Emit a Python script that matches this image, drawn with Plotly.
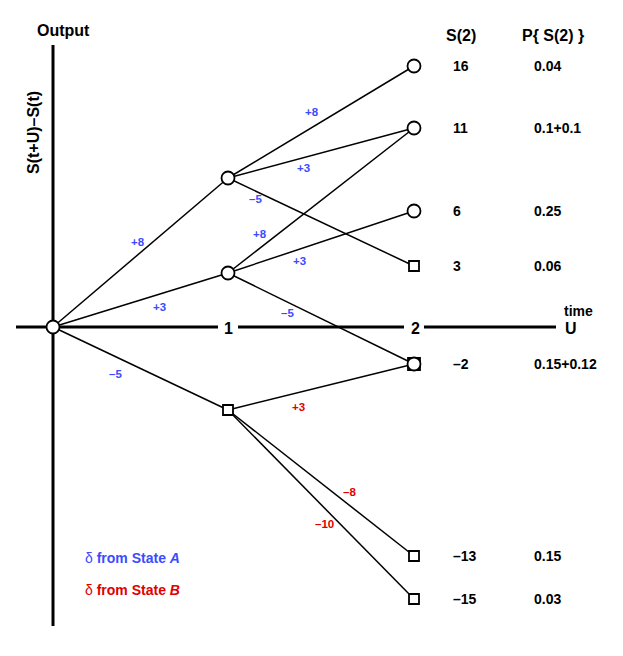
import plotly.graph_objects as go

# ---------------- data ----------------
# tree nodes: time step, S value, node state (A = circle, B = square)
node_t     = [0, 1, 1, 1, 2, 2, 2, 2, 2, 2, 2]
node_S     = [0, 8, 3, -5, 16, 11, 6, 3, -2, -13, -15]
node_state = ["A", "A", "A", "B", "A", "A", "A", "B", "AB", "B", "B"]
# schematic drawing level of each node
node_level = [327, 178, 273, 410, 66, 128, 211, 266, 364, 556, 599]
time_pos   = [53, 228, 414]          # drawing position of t = 0, 1, 2

# edges (from node index, to node index), increment delta, state it comes from
edge_from  = [0, 0, 0, 1, 1, 1, 2, 2, 2, 3, 3, 3]
edge_to    = [1, 2, 3, 4, 5, 7, 5, 6, 8, 8, 9, 10]
edge_delta = ["+8", "+3", "–5", "+8", "+3", "–5", "+8", "+3", "–5", "+3", "–8", "–10"]
edge_state = ["A", "A", "A", "A", "A", "A", "A", "A", "A", "B", "B", "B"]
label_x    = [138, 159, 115, 312, 303, 255, 260, 299, 287, 298, 349, 324]
label_y    = [242, 307, 374, 112, 168, 199, 234, 261, 313, 407, 492, 524]

# outcome table at t = 2
S2_values = ["16", "11", "6", "3", "–2", "–13", "–15"]
S2_probs  = ["0.04", "0.1+0.1", "0.25", "0.06", "0.15+0.12", "0.15", "0.03"]
S2_level  = [66, 128, 211, 266, 364, 556, 599]

BLUE = "#3b4cff"
RED = "#e00000"
FONT = "Liberation Sans, Arial, Helvetica, sans-serif"
PAGE_OFFSET = 8  # default body margin of the page

fig = go.Figure()

# edges
for f, t, st in zip(edge_from, edge_to, edge_state):
    fig.add_trace(go.Scatter(
        x=[time_pos[node_t[f]], time_pos[node_t[t]]],
        y=[node_level[f], node_level[t]],
        mode="lines", line=dict(color="black", width=1.5),
        hoverinfo="skip", showlegend=False))

# axes drawn as shapes
axis_w = 3
fig.add_shape(type="line", x0=time_pos[0], x1=time_pos[0], y0=45, y1=626,
              line=dict(color="black", width=axis_w), layer="below")
for a, b in [(16, 218), (238, 404), (424, 556)]:
    fig.add_shape(type="line", x0=a, x1=b, y0=node_level[0], y1=node_level[0],
                  line=dict(color="black", width=axis_w), layer="below")

# nodes
def add_nodes(idx, symbol, size):
    fig.add_trace(go.Scatter(
        x=[time_pos[node_t[i]] for i in idx], y=[node_level[i] for i in idx],
        mode="markers",
        marker=dict(symbol=symbol, size=size, color="white",
                    line=dict(color="black", width=1.8)),
        hoverinfo="skip", showlegend=False))

add_nodes([i for i, s in enumerate(node_state) if s == "B"], "square", 10)
add_nodes([i for i, s in enumerate(node_state) if s == "AB"], "square", 12)
add_nodes([i for i, s in enumerate(node_state) if "A" in s], "circle", 13)

ann = []
def txt(x, y, s, size, color="black", xanchor="center", **kw):
    ann.append(dict(x=x, y=y, text=s, showarrow=False, xanchor=xanchor,
                    yanchor="middle", font=dict(family=FONT, size=size, color=color), **kw))

# edge labels
for lx, ly, d, st in zip(label_x, label_y, edge_delta, edge_state):
    txt(lx, ly, "<b>%s</b>" % d, 11.5, BLUE if st == "A" else RED)

# table
txt(444, 35, "<b>S(2)</b>", 16, xanchor="left")
txt(520, 35, "<b>P{ S(2) }</b>", 16, xanchor="left")
for v, p, lv in zip(S2_values, S2_probs, S2_level):
    txt(451, lv, "<b>%s</b>" % v, 14, xanchor="left")
    txt(532, lv, "<b>%s</b>" % p, 14, xanchor="left")

# axis texts
txt(63, 30, "<b>Output</b>", 16)
txt(33, 133, "<b>S(t+U)–S(t)</b>", 16, textangle=-90)
txt(time_pos[1], node_level[0] + 1, "<b>1</b>", 16)
txt(time_pos[2] + 1, node_level[0] + 1, "<b>2</b>", 16)
txt(571, 328, "<b>U</b>", 16)
txt(578, 311, "<b>time</b>", 14)

# legend-like texts
txt(83, 558, "<span style='font-weight:normal'>δ</span> <b>from State <i>A</i></b>", 14, BLUE, xanchor="left")
txt(83, 590, "<span style='font-weight:normal'>δ</span> <b>from State <i>B</i></b>", 14, RED, xanchor="left")

W, H = 623, 656
fig.update_layout(
    width=W - PAGE_OFFSET, height=H - PAGE_OFFSET, margin=dict(l=0, r=0, t=0, b=0),
    paper_bgcolor="white", plot_bgcolor="white",
    xaxis=dict(range=[PAGE_OFFSET, W], visible=False, fixedrange=True),
    yaxis=dict(range=[H, PAGE_OFFSET], visible=False, fixedrange=True),
    annotations=ann, showlegend=False,
)
fig.write_html("out.html")
